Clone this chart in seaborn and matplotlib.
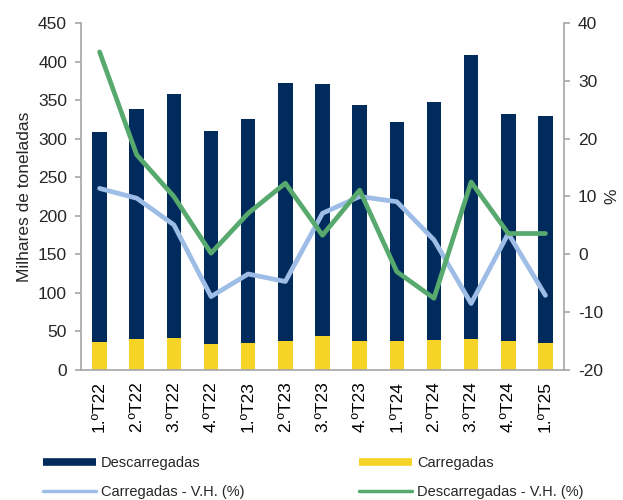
import numpy as np
import matplotlib
matplotlib.use("Agg")
import matplotlib.pyplot as plt
import seaborn as sns
from matplotlib.lines import Line2D
from matplotlib.ticker import MultipleLocator

# --- Data ---
quarters = ["1.ºT22", "2.ºT22", "3.ºT22", "4.ºT22", "1.ºT23", "2.ºT23", "3.ºT23",
            "4.ºT23", "1.ºT24", "2.ºT24", "3.ºT24", "4.ºT24", "1.ºT25"]
descarregadas = [308, 338, 358, 310, 326, 372, 371, 344, 321, 347, 409, 332, 329]
carregadas = [36, 40, 41, 34, 35, 38, 44, 37, 38, 39, 40, 38, 35]
carregadas_vh = [11.4, 9.7, 5.1, -7.3, -3.4, -4.7, 7.1, 10.0, 9.1, 2.5, -8.5, 3.6, -7.1]
descarregadas_vh = [35.0, 17.2, 10.0, 0.2, 7.1, 12.3, 3.3, 11.1, -3.0, -7.6, 12.5, 3.6, 3.6]

# --- Colours ---
navy = "#002b5c"
yellow = "#f5d327"
light_blue = "#9dbde6"
green = "#57a96e"
grey = "#a6a6a6"

sns.set_theme(style="white")
plt.rcParams["font.family"] = ["Liberation Sans", "DejaVu Sans"]
plt.rcParams["axes.unicode_minus"] = False

fig = plt.figure(figsize=(6.23, 5), dpi=100)
ax = fig.add_axes([81 / 623, 1 - 370 / 500, (564 - 81) / 623, (370 - 23) / 500])

# --- Bars (overlapping, both from zero) ---
sns.barplot(x=quarters, y=descarregadas, color=navy, saturation=1, width=0.39,
            linewidth=0, ax=ax)
sns.barplot(x=quarters, y=carregadas, color=yellow, saturation=1, width=0.39,
            linewidth=0, ax=ax)

# --- Lines on the secondary axis ---
ax2 = ax.twinx()
pos = np.arange(len(quarters))
sns.lineplot(x=pos, y=carregadas_vh, color=light_blue, linewidth=3.4, ax=ax2)
sns.lineplot(x=pos, y=descarregadas_vh, color=green, linewidth=3.4, ax=ax2)

# --- Axes styling ---
ax.set_xlim(-0.5, len(quarters) - 0.5)
ax.set_ylim(0, 450)
ax.yaxis.set_major_locator(MultipleLocator(50))
ax2.set_ylim(-20, 40)
ax2.yaxis.set_major_locator(MultipleLocator(10))

ax.set_xticks(pos)
ax.set_xticklabels(quarters, rotation=90)
ax.set_xticks(np.arange(-0.5, len(quarters)), minor=True)
ax.tick_params(axis="x", which="major", length=0, pad=8, labelsize=12.5, colors="black")
ax.tick_params(axis="x", which="minor", length=4, width=1.2, color=grey)
ax.tick_params(axis="y", length=4, width=1.2, color=grey, pad=6, labelsize=12.5,
               left=True)
ax2.tick_params(axis="y", length=4, width=1.2, color=grey, pad=6, labelsize=12.5,
                right=True)

for a in (ax, ax2):
    for side, sp in a.spines.items():
        sp.set_color(grey)
        sp.set_linewidth(1.2)
    a.spines["top"].set_visible(False)
    a.grid(False)
ax.spines["right"].set_visible(False)
ax2.spines["left"].set_visible(False)
ax2.spines["bottom"].set_visible(False)

ax.set_xlabel("")
ax.set_ylabel("Milhares de toneladas", fontsize=12.5, labelpad=4)
ax2.set_ylabel("%", fontsize=12.5, labelpad=1)

# --- Legend (column-major order -> row layout of the reference) ---
handles = [
    Line2D([], [], color=navy, linewidth=5.5, solid_capstyle="butt"),
    Line2D([], [], color=light_blue, linewidth=2.5),
    Line2D([], [], color=yellow, linewidth=5.5, solid_capstyle="butt"),
    Line2D([], [], color=green, linewidth=2.5),
]
labels = ["Descarregadas", "Carregadas - V.H. (%)", "Carregadas", "Descarregadas - V.H. (%)"]
fig.legend(handles, labels, ncol=2, loc="center left", bbox_to_anchor=(43 / 623, 1 - 477.5 / 500),
           frameon=False, fontsize=10.5, handlelength=3.6, handletextpad=0.35,
           columnspacing=7.9, labelspacing=1.0, borderpad=0, borderaxespad=0)

fig.savefig("out.png", dpi=100)
